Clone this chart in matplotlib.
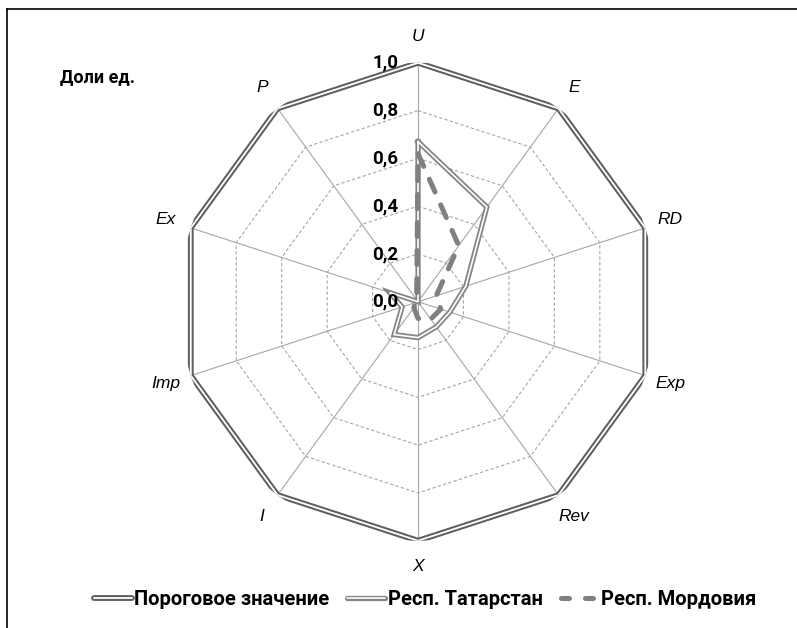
import numpy as np
import matplotlib
matplotlib.use("Agg")
import matplotlib.pyplot as plt
import matplotlib.patheffects as pe
from matplotlib.lines import Line2D

# оси лепестковой диаграммы
categories = ["U", "E", "RD", "Exp", "Rev", "X", "I", "Imp", "Ex", "P"]
threshold = [1.0, 1.0, 1.0, 1.0, 1.0, 1.0, 1.0, 1.0, 1.0, 1.0]
tatarstan = [0.67, 0.49, 0.21, 0.14, 0.13, 0.15, 0.17, 0.07, 0.125, 0.0]
mordovia = [0.62, 0.29, 0.08, 0.10, 0.09, 0.07, 0.03, 0.01, 0.01, 0.01]
r_ticks = [0.0, 0.2, 0.4, 0.6, 0.8, 1.0]
r_labels = ["0,0", "0,2", "0,4", "0,6", "0,8", "1,0"]
series_names = ["Пороговое значение", "Респ. Татарстан", "Респ. Мордовия"]

plt.rcParams["font.family"] = ["Roboto", "DejaVu Sans"]

n = len(categories)
theta = np.linspace(0, 2 * np.pi, n, endpoint=False)
theta_c = np.append(theta, theta[0])


def closed(vals):
    return np.append(vals, vals[0])


fig = plt.figure(figsize=(7.97, 6.28), dpi=100)
ax = fig.add_axes([0.2246, 0.139, 0.5998, 0.761], projection="polar")
ax.set_theta_zero_location("N")
ax.set_theta_direction(-1)
ax.set_ylim(0, 1)
ax.grid(False)
ax.set_xticks([])
ax.set_yticks([])
ax.spines["polar"].set_visible(False)
ax.patch.set_visible(False)

# сетка: пунктирные многоугольники и лучи
for r in r_ticks[1:-1]:
    ax.plot(theta_c, [r] * (n + 1), color="#a6a6a6", lw=0.8, ls=(0, (3, 2)), zorder=1)
for t in theta:
    ax.plot([t, t], [0, 1], color="#a6a6a6", lw=0.8, zorder=1)

double_dark = [pe.Stroke(linewidth=4.2, foreground="#5f5f5f"), pe.Normal()]
double_gray = [pe.Stroke(linewidth=3.8, foreground="#858585"), pe.Normal()]

ax.plot(theta_c, closed(threshold), color="white", lw=1.3, path_effects=double_dark, zorder=3,
        solid_joinstyle="miter")
ax.plot(theta_c, closed(tatarstan), color="white", lw=1.2, path_effects=double_gray, zorder=4,
        solid_joinstyle="miter")
ax.plot(theta_c, closed(mordovia), color="#808080", lw=3.6, ls=(0, (2.8, 2.8)),
        dash_capstyle="round", zorder=5)

# подписи осей
for t, name in zip(theta, categories):
    ax.text(t, 1.11, name, ha="center", va="center", fontsize=12.5, style="italic",
            family=["Liberation Sans", "DejaVu Sans"])

# подписи шкалы
for r, lab in zip(r_ticks, r_labels):
    ax.annotate(lab, (0, r), xytext=(-14, 0), textcoords="offset points",
                ha="right", va="center", fontsize=13.5, fontweight="bold", zorder=6)

fig.text(0.075, 0.877, "Доли ед.", fontsize=13, fontweight="bold", ha="left", va="center")

# рамка области диаграммы
fig.add_artist(Line2D([0.009, 1.0], [0.985, 0.985], color="black", lw=1.2))
fig.add_artist(Line2D([0.009, 0.009], [0.0, 0.985], color="black", lw=1.2))

handles = [
    Line2D([], [], color="white", lw=1.3, path_effects=double_dark, solid_capstyle="round"),
    Line2D([], [], color="white", lw=1.2, path_effects=double_gray, solid_capstyle="round"),
    Line2D([], [], color="#808080", lw=3.6, ls=(0, (1.6, 3.2)), dash_capstyle="round"),
]
fig.legend(handles, series_names, loc="center", bbox_to_anchor=(0.533, 0.045), ncol=3,
           frameon=False, handlelength=1.9, handletextpad=0.1,
           columnspacing=0.9, prop={"family": ["Roboto", "DejaVu Sans"], "weight": "bold", "size": 14.5})

fig.savefig("out.png", dpi=100)
